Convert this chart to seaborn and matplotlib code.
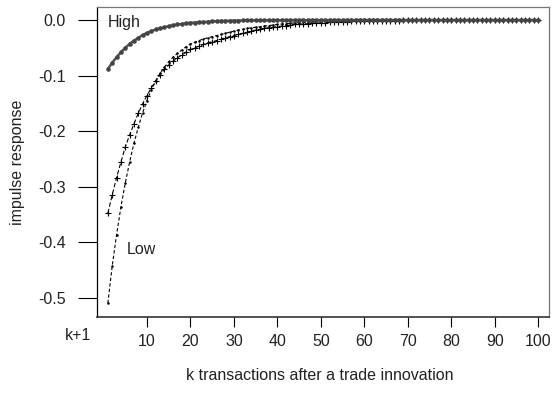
import matplotlib
matplotlib.use("Agg")
import matplotlib.pyplot as plt
import seaborn as sns
import pandas as pd

k = list(range(1, 101))

high = [
    -0.088, -0.077, -0.067, -0.058, -0.050, -0.043, -0.037, -0.032, -0.027, -0.023,
    -0.020, -0.017, -0.015, -0.013, -0.011, -0.0095, -0.008, -0.007, -0.006, -0.005,
    -0.0045, -0.004, -0.0035, -0.003, -0.0025, -0.002, -0.0018, -0.0015, -0.0012, -0.001,
    -0.0009, -0.0008, -0.0007, -0.0006, -0.0005, -0.0004, -0.0004, -0.0003, -0.0003, -0.0002,
    -0.0002, -0.0002, -0.0002, -0.0001, -0.0001, -0.0001, -0.0001, -0.0001, -0.0001, -0.0001,
    -0.0001, -0.0001, -0.0001, -0.0001, -0.0001, 0.0, 0.0, 0.0, 0.0, 0.0,
    0.0, 0.0, 0.0, 0.0, 0.0, 0.0, 0.0, 0.0, 0.0, 0.0,
    0.0, 0.0, 0.0, 0.0, 0.0, 0.0, 0.0, 0.0, 0.0, 0.0,
    0.0, 0.0, 0.0, 0.0, 0.0, 0.0, 0.0, 0.0, 0.0, 0.0,
    0.0, 0.0, 0.0, 0.0, 0.0, 0.0, 0.0, 0.0, 0.0, 0.0,
]

low_plus = [
    -0.348, -0.315, -0.284, -0.256, -0.229, -0.207, -0.187, -0.168, -0.151, -0.136,
    -0.122, -0.110, -0.099, -0.089, -0.081, -0.074, -0.068, -0.063, -0.058, -0.053,
    -0.050, -0.047, -0.044, -0.041, -0.039, -0.037, -0.035, -0.032, -0.030, -0.028,
    -0.026, -0.024, -0.022, -0.020, -0.018, -0.017, -0.015, -0.014, -0.013, -0.012,
    -0.011, -0.010, -0.009, -0.008, -0.0075, -0.007, -0.0065, -0.006, -0.0055, -0.005,
    -0.0046, -0.0042, -0.0038, -0.0034, -0.0031, -0.0028, -0.0025, -0.0022, -0.0020, -0.0018,
    -0.0016, -0.0015, -0.0014, -0.0013, -0.0012, -0.0011, -0.0010, -0.0009, -0.0008, -0.0008,
    -0.0007, -0.0007, -0.0006, -0.0006, -0.0005, -0.0005, -0.0005, -0.0004, -0.0004, -0.0004,
    -0.0003, -0.0003, -0.0003, -0.0003, -0.0003, -0.0003, -0.0003, -0.0002, -0.0002, -0.0002,
    -0.0002, -0.0002, -0.0002, -0.0002, -0.0001, -0.0001, -0.0001, -0.0001, -0.0001, -0.0001,
]

low_dot = [
    -0.510, -0.443, -0.387, -0.337, -0.294, -0.256, -0.222, -0.193, -0.167, -0.145,
    -0.126, -0.110, -0.096, -0.085, -0.075, -0.067, -0.060, -0.054, -0.048, -0.043,
    -0.040, -0.037, -0.034, -0.032, -0.030, -0.028, -0.026, -0.024, -0.022, -0.020,
    -0.018, -0.017, -0.015, -0.014, -0.013, -0.012, -0.011, -0.010, -0.009, -0.008,
    -0.0072, -0.0065, -0.0058, -0.0052, -0.0047, -0.0042, -0.0038, -0.0034, -0.0031, -0.0028,
    -0.0025, -0.0022, -0.0020, -0.0018, -0.0016, -0.0014, -0.0013, -0.0012, -0.0011, -0.0010,
    -0.0009, -0.0008, -0.0007, -0.0007, -0.0006, -0.0006, -0.0005, -0.0005, -0.0004, -0.0004,
    -0.0003, -0.0003, -0.0003, -0.0003, -0.0002, -0.0002, -0.0002, -0.0002, -0.0002, -0.0002,
    -0.0001, -0.0001, -0.0001, -0.0001, -0.0001, -0.0001, -0.0001, -0.0001, -0.0001, -0.0001,
    -0.0001, -0.0001, 0.0, 0.0, 0.0, 0.0, 0.0, 0.0, 0.0, 0.0,
]

y_ticks = [0.0, -0.1, -0.2, -0.3, -0.4, -0.5]
y_tick_labels = ["0.0", "-0.1", "-0.2", "-0.3", "-0.4", "-0.5"]
x_ticks = [10, 20, 30, 40, 50, 60, 70, 80, 90, 100]
x_tick_labels = ["10", "20", "30", "40", "50", "60", "70", "80", "90", "100"]

sns.set_theme(style="white")
plt.rcParams["font.family"] = ["Liberation Sans", "DejaVu Sans"]

FS = 11.5

fig = plt.figure(figsize=(5.52, 3.93), dpi=100)
ax = fig.add_axes([97 / 552, 1 - 317 / 393, (549 - 97) / 552, (317 - 7) / 393])

df = pd.DataFrame({"k": k, "high": high, "low_plus": low_plus, "low_dot": low_dot})

sns.lineplot(data=df, x="k", y="low_dot", ax=ax, color="black", linewidth=0.8,
             linestyle=(0, (3, 2)), marker="o", markersize=1.8, markeredgewidth=0,
             markerfacecolor="black", errorbar=None)
sns.lineplot(data=df, x="k", y="low_plus", ax=ax, color="black", linewidth=0.8,
             linestyle=(0, (4, 2)), marker="+", markersize=5, markeredgewidth=0.8,
             markeredgecolor="black", errorbar=None)
sns.lineplot(data=df, x="k", y="high", ax=ax, color="#555555", linewidth=1.8,
             marker="o", markersize=3.3, markeredgewidth=0,
             markerfacecolor="#444444", errorbar=None)

ax.set_xlim(-1.5, 102.5)
ax.set_ylim(-0.535, 0.0235)

ax.set_yticks(y_ticks)
ax.set_yticklabels(y_tick_labels)
ax.set_xticks(x_ticks)
ax.set_xticklabels(x_tick_labels)

ax.tick_params(axis="y", direction="out", length=13.5, width=0.8, pad=9,
               labelsize=FS, colors="black", left=True)
ax.tick_params(axis="x", direction="out", length=7, width=0.8, pad=5,
               labelsize=FS, colors="black", bottom=True)
for lab in ax.get_xticklabels() + ax.get_yticklabels():
    lab.set_color("#222222")

for side in ["top", "right"]:
    ax.spines[side].set_color("#777777")
    ax.spines[side].set_linewidth(0.9)
ax.spines["left"].set_color("black")
ax.spines["left"].set_linewidth(0.9)
ax.spines["bottom"].set_color("#333333")
ax.spines["bottom"].set_linewidth(1.2)

ax.set_xlabel("")
ax.set_ylabel("")
fig.text(18 / 552, 1 - 162 / 393, "impulse response", rotation=90,
         ha="center", va="center", fontsize=FS, color="#222222")
fig.text(320 / 552, 1 - 376 / 393, "k transactions after a trade innovation",
         ha="center", va="center", fontsize=FS, color="#222222")
fig.text(78 / 552, 1 - 336 / 393, "k+1", ha="center", va="center",
         fontsize=FS, color="#222222")

ax.text(1.0, -0.004, "High", ha="left", va="center", fontsize=FS, color="#222222")
ax.text(5.4, -0.414, "Low", ha="left", va="center", fontsize=FS, color="#222222")

fig.savefig("out.png", dpi=100)
